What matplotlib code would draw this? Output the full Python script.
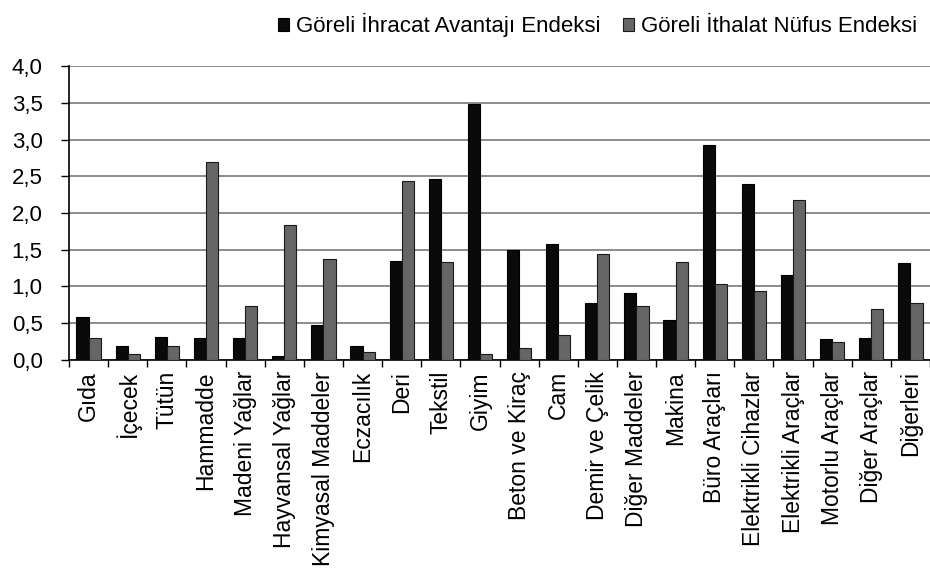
import matplotlib.pyplot as plt
import numpy as np

plt.rcParams['font.family'] = ['Liberation Sans', 'DejaVu Sans']

kategoriler = ['Gıda', 'İçecek', 'Tütün', 'Hammadde', 'Madeni Yağlar', 'Hayvansal Yağlar',
               'Kimyasal Maddeler', 'Eczacılık', 'Deri', 'Tekstil', 'Giyim', 'Beton ve Kiraç',
               'Cam', 'Demir ve Çelik', 'Diğer Maddeler', 'Makina', 'Büro Araçları',
               'Elektrikli Cihazlar', 'Elektrikli Araçlar', 'Motorlu Araçlar', 'Diğer Araçlar',
               'Diğerleri']
ihracat = [0.58, 0.19, 0.31, 0.30, 0.30, 0.06, 0.48, 0.19, 1.35, 2.46, 3.48, 1.50,
           1.58, 0.78, 0.91, 0.54, 2.93, 2.39, 1.16, 0.28, 0.30, 1.32]
ithalat = [0.30, 0.08, 0.19, 2.69, 0.74, 1.84, 1.38, 0.11, 2.43, 1.34, 0.08, 0.16,
           0.34, 1.44, 0.73, 1.34, 1.03, 0.94, 2.18, 0.25, 0.70, 0.77]
yticks = [0.0, 0.5, 1.0, 1.5, 2.0, 2.5, 3.0, 3.5, 4.0]

fig = plt.figure(figsize=(9.3, 5.75), dpi=100)
ax = fig.add_axes([0.0742, 0.374, 0.9258, 0.511])

x = np.arange(len(kategoriler))
w = 0.31
ax.bar(x - w / 2, ihracat, w, color='#0a0a0a', edgecolor='#000000', linewidth=0.8,
       label='Göreli İhracat Avantajı Endeksi', zorder=3)
ax.bar(x + w / 2, ithalat, w, color='#666666', edgecolor='#1a1a1a', linewidth=0.8,
       label='Göreli İthalat Nüfus Endeksi', zorder=3)

ax.set_xlim(-0.5, len(kategoriler) - 0.5)
ax.set_ylim(0, 4.0)
ax.set_yticks(yticks)
ax.set_yticklabels([f'{v:.1f}'.replace('.', ',') for v in yticks], fontsize=16)
ax.set_xticks(x)
ax.set_xticklabels(kategoriler, rotation=90, fontsize=16.5)
ax.set_xticks(np.arange(len(kategoriler) + 1) - 0.5, minor=True)
ax.tick_params(axis='x', which='major', length=0, pad=8)
ax.tick_params(axis='x', which='minor', length=5, width=1, color='#000000')
ax.tick_params(axis='y', length=6, width=1, color='#000000', pad=13)

ax.yaxis.grid(True, color='#6e6e6e', linewidth=1.1, zorder=0)
ax.set_axisbelow(True)
for s in ['top', 'right']:
    ax.spines[s].set_visible(False)
ax.spines['left'].set_linewidth(1.2)
ax.spines['bottom'].set_linewidth(1.2)

fig.legend(loc='upper right', bbox_to_anchor=(1.0, 1.0), ncol=2, frameon=False,
           fontsize=16, handlelength=0.5, handleheight=0.5, handletextpad=0.3,
           columnspacing=1.0, borderaxespad=0.2)

fig.savefig('out.png', dpi=100)
